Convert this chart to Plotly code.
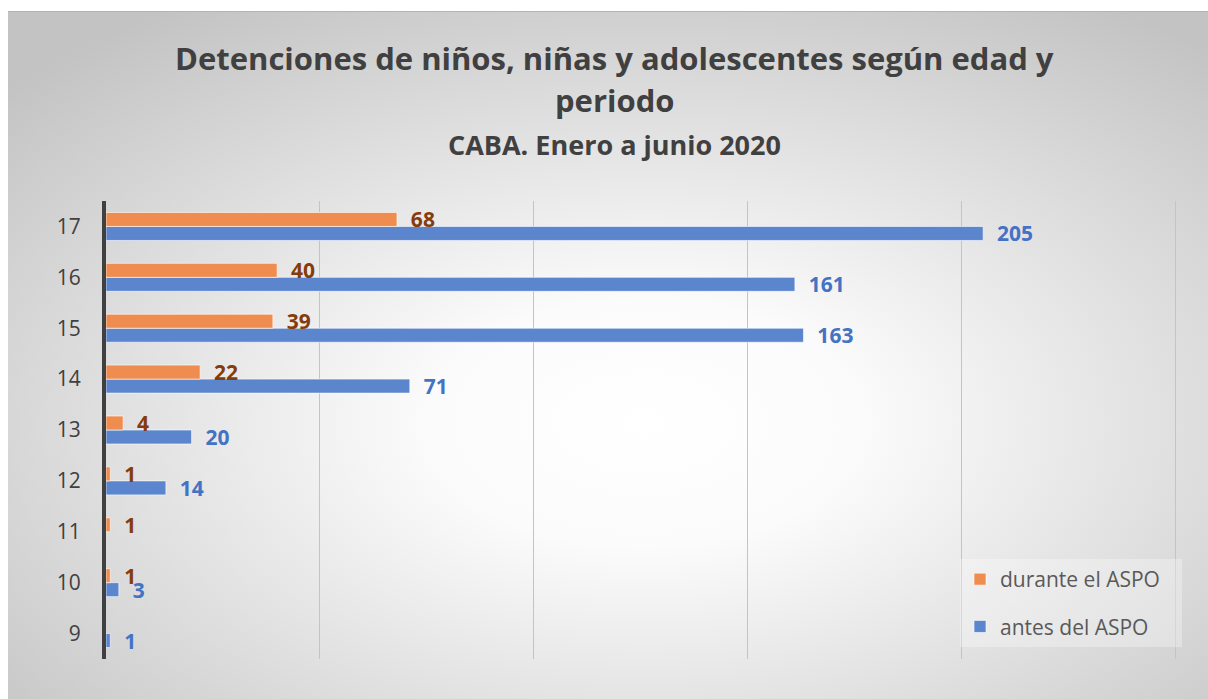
import base64
import plotly.graph_objects as go

edades = ["9", "10", "11", "12", "13", "14", "15", "16", "17"]
antes_aspo = [1, 3, None, 14, 20, 71, 163, 161, 205]
durante_aspo = [None, 1, 1, 1, 4, 22, 39, 40, 68]

W, H = 1208, 699
ML, MR, MT, MB = 106, 31, 201, 40
PW, PH = W - ML - MR, H - MT - MB


def px_x(x):
    return (x - ML) / PW


def px_y(y):
    return 1 - (y - MT) / PH


FONT = "Open Sans"
PAD = "\u00a0" * 3  # aire a la derecha de la leyenda

# fondo con degradado radial (como el grafico de Excel)
svg = (
    '<svg xmlns="http://www.w3.org/2000/svg" width="1200" height="688" '
    'viewBox="0 0 1200 688" preserveAspectRatio="none">'
    '<defs><radialGradient id="g" cx="0.53" cy="0.6" r="0.72">'
    '<stop offset="0" stop-color="#ffffff"/>'
    '<stop offset="0.25" stop-color="#fbfbfb"/>'
    '<stop offset="1" stop-color="#c3c3c3"/>'
    '</radialGradient></defs>'
    '<rect width="1200" height="688" fill="url(#g)"/>'
    '<line x1="0" y1="0.5" x2="1200" y2="0.5" stroke="#b4b4b4"/>'
    '</svg>'
)
bg = "data:image/svg+xml;base64," + base64.b64encode(svg.encode()).decode()

fig = go.Figure()

fig.add_trace(go.Bar(
    y=edades, x=antes_aspo, orientation="h",
    name="antes del ASPO" + PAD, legendrank=2, legendgroup="antes",
    marker=dict(color="#5B86CD", line=dict(color="rgba(255,255,255,0.6)", width=1)),
    texttemplate="\u00a0\u00a0%{x}", textposition="outside",
    constraintext="none", cliponaxis=False,
    textfont=dict(family=FONT, size=21, color="#4472C4", weight="bold"),
    hovertemplate="antes del ASPO<br>%{y} años: %{x}<extra></extra>",
))

fig.add_trace(go.Bar(
    y=edades, x=durante_aspo, orientation="h",
    name="durante el ASPO" + PAD, legendrank=1, legendgroup="durante",
    marker=dict(color="#EF8D50", line=dict(color="rgba(255,255,255,0.6)", width=1)),
    texttemplate="\u00a0\u00a0%{x}", textposition="outside",
    constraintext="none", cliponaxis=False,
    textfont=dict(family=FONT, size=21, color="#843C0C", weight="bold"),
    hovertemplate="durante el ASPO<br>%{y} años: %{x}<extra></extra>",
))

fig.update_layout(
    width=W, height=H,
    margin=dict(l=ML, r=MR, t=MT, b=MB),
    paper_bgcolor="white",
    plot_bgcolor="rgba(0,0,0,0)",
    barmode="group",
    bargap=0.45,
    bargroupgap=0,
    font=dict(family=FONT, color="#404040"),
    images=[dict(
        source=bg, xref="paper", yref="paper",
        x=px_x(8), y=px_y(11),
        sizex=(W - 8) / PW, sizey=(H - 11) / PH,
        sizing="stretch", xanchor="left", yanchor="top", layer="below",
    )],
    legend=dict(
        x=px_x(960), y=px_y(559), xanchor="left", yanchor="top",
        traceorder="grouped", tracegroupgap=17, itemwidth=30,
        bgcolor="rgba(255,255,255,0.3)",
        font=dict(family=FONT, size=21, color="#595959"),
    ),
    annotations=[
        dict(text="<b>Detenciones de niños, niñas y adolescentes según edad y</b>",
             xref="paper", yref="paper", x=px_x(614), y=px_y(58),
             showarrow=False, xanchor="center", yanchor="middle",
             font=dict(family=FONT, size=31, color="#404040")),
        dict(text="<b>periodo</b>",
             xref="paper", yref="paper", x=px_x(614), y=px_y(100),
             showarrow=False, xanchor="center", yanchor="middle",
             font=dict(family=FONT, size=31, color="#404040")),
        dict(text="<b>CABA. Enero a junio 2020</b>",
             xref="paper", yref="paper", x=px_x(614), y=px_y(145),
             showarrow=False, xanchor="center", yanchor="middle",
             font=dict(family=FONT, size=27, color="#404040")),
    ],
)

fig.update_xaxes(
    range=[0, 250.3], dtick=50, showgrid=True, gridcolor="#c4c4c4", gridwidth=1,
    showticklabels=False, zeroline=False, showline=False,
)
fig.update_yaxes(
    type="category", range=[-0.5, 8.5],
    showline=True, linecolor="#404040", linewidth=4,
    showgrid=False, ticks="", ticklabelstandoff=17,
    tickfont=dict(family=FONT, size=21, color="#404040"),
)

fig.write_html("out.html", config={"displayModeBar": False},
               post_script="document.body.style.margin='0';")
